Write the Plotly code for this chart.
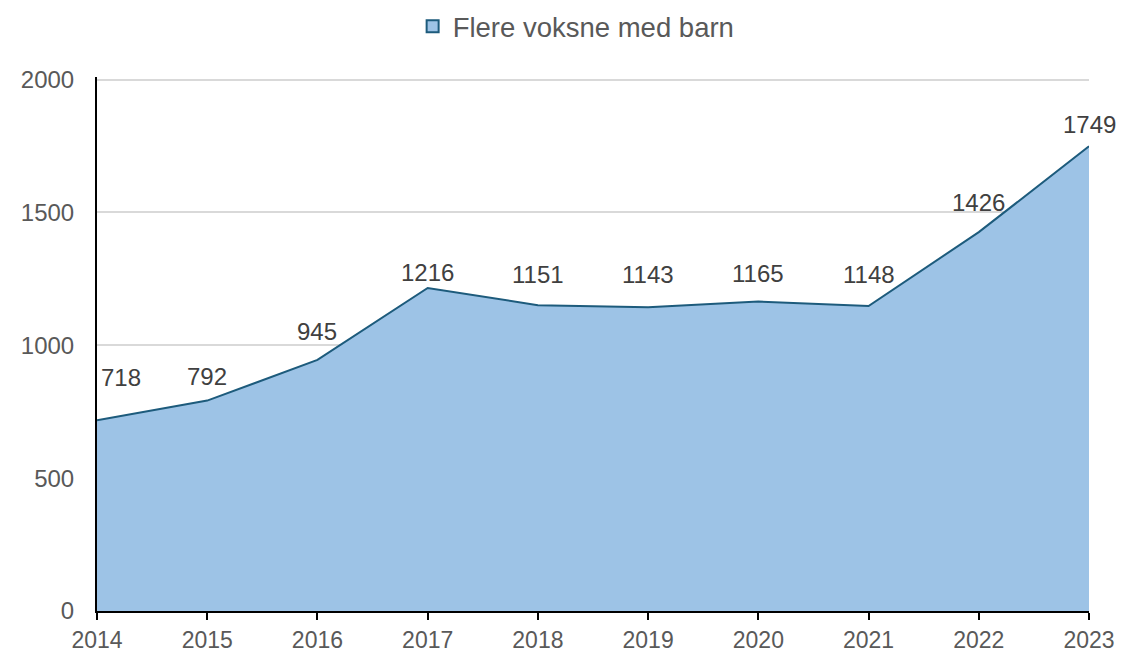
import plotly.graph_objects as go

years = [2014, 2015, 2016, 2017, 2018, 2019, 2020, 2021, 2022, 2023]
values = [718, 792, 945, 1216, 1151, 1143, 1165, 1148, 1426, 1749]
series_name = "Flere voksne med barn"
y_ticks = [0, 500, 1000, 1500, 2000]

# label placement offsets (pixels), style only
label_yshift = [43, 24, 28, 15, 31, 33, 28, 32, 30, 22]
label_xshift = [24, 0, 0, 0, 0, 0, 0, 0, 0, 0]

FILL = "#9DC3E6"
LINE = "#1D5B7C"
FONT = "Liberation Sans, Arial, sans-serif"

fig = go.Figure()
fig.add_trace(go.Scatter(
    x=years, y=values, mode="lines", fill="tozeroy",
    fillcolor=FILL, line=dict(color=LINE, width=2),
    showlegend=False, hoverinfo="x+y",
))
# legend swatch
fig.add_trace(go.Scatter(
    x=[None], y=[None], mode="markers", name=series_name,
    marker=dict(symbol="square", size=15, color=FILL, line=dict(color=LINE, width=2)),
))

for x, y, dy, dx in zip(years, values, label_yshift, label_xshift):
    fig.add_annotation(x=x, y=y, text=str(y), showarrow=False,
                       yshift=dy, xshift=dx, yanchor="middle", xanchor="center",
                       font=dict(size=24, color="#404040", family=FONT))

fig.update_layout(
    width=1122, height=652,
    margin=dict(l=97, r=33, t=77, b=41, autoexpand=False),
    paper_bgcolor="white", plot_bgcolor="white",
    font=dict(family=FONT, size=23, color="#595959"),
    legend=dict(orientation="h", x=0.483, xanchor="center", yref="container", y=0.997,
                yanchor="top", font=dict(size=27.5, color="#595959"),
                itemsizing="constant", itemwidth=30),
    xaxis=dict(range=[2014, 2023], tickmode="array", tickvals=years,
               ticktext=[str(y) for y in years], automargin=False,
               showgrid=False, zeroline=False, showline=True, linecolor="black",
               linewidth=2, ticks="outside", ticklen=7, tickwidth=2, tickcolor="black",
               tickfont=dict(size=23, color="#595959")),
    yaxis=dict(range=[0, 2010], tickmode="array", tickvals=y_ticks, automargin=False,
               showgrid=True, gridcolor="#D9D9D9", gridwidth=1.5,
               zeroline=False, showline=True, linecolor="black", linewidth=2,
               ticks="", tickfont=dict(size=24, color="#595959"), ticklabelstandoff=16),
)

fig.write_html("out.html", config={"displayModeBar": False},
               post_script="document.body.style.margin='0';document.body.style.overflow='hidden';")
